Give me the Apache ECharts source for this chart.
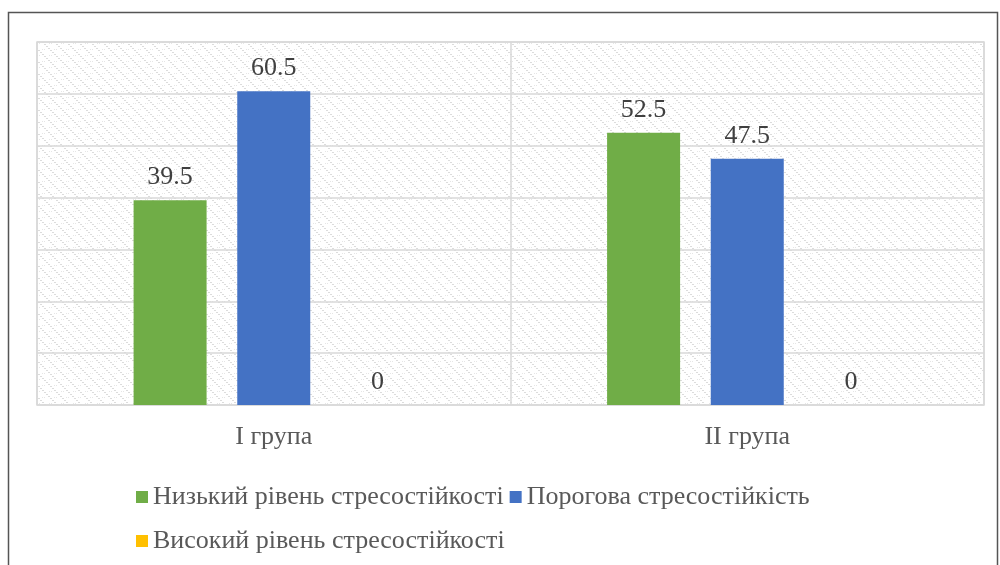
<!DOCTYPE html>
<html>
<head>
<meta charset="utf-8">
<script src="https://cdn.jsdelivr.net/npm/echarts@6/dist/echarts.min.js"></script>
<style>
  html, body { margin: 0; padding: 0; background: #fff; }
  #chart { width: 1000px; height: 565px; }
</style>
</head>
<body>
<div id="chart"></div>
<script>
// Groups and stress-resistance levels (%)
const categories = ['I група', 'II група'];
const lowLevel = [39.5, 52.5];
const thresholdLevel = [60.5, 47.5];
const highLevel = [0, 0];
const seriesNames = ['Низький рівень стресостійкості', 'Порогова стресостійкість', 'Високий рівень стресостійкості'];
const seriesColors = ['#70AD47', '#4472C4', '#FFC000'];

// Light dotted diagonal texture for the plot background
function makeTexture() {
  const c = document.createElement('canvas');
  c.width = 12; c.height = 12;
  const g = c.getContext('2d');
  g.fillStyle = '#ffffff';
  g.fillRect(0, 0, 12, 12);
  g.fillStyle = '#dcdcdc';
  for (let i = 0; i < 12; i += 2) {
    g.fillRect(i, i, 1, 1);
    g.fillRect((i + 1) % 12, i, 1, 1);
  }
  g.fillStyle = '#e6e6e6';
  g.fillRect(6, 1, 1, 1); g.fillRect(8, 1, 1, 1);
  g.fillRect(1, 7, 1, 1); g.fillRect(3, 7, 1, 1);
  return c;
}

const serifFont = 'Liberation Serif';
const dataSets = [lowLevel, thresholdLevel, highLevel];
const legendText = { fontFamily: serifFont, fontSize: 26, color: '#595959' };

const chart = echarts.init(document.getElementById('chart'));
chart.setOption({
  animationDuration: 200,
  animationEasing: 'linear',
  textStyle: { fontFamily: serifFont },
  graphic: [{
    type: 'rect',
    shape: { x: 8.5, y: 12.5, width: 989, height: 600 },
    style: { fill: 'none', stroke: '#555555', lineWidth: 1.5 },
    silent: true
  }],
  grid: {
    left: 37, right: 16, top: 42, bottom: 160,
    show: true,
    backgroundColor: { image: makeTexture(), repeat: 'repeat' },
    borderColor: '#d9d9d9', borderWidth: 1.5
  },
  legend: [{
    left: 131, top: 479,
    itemWidth: 12, itemHeight: 12, itemGap: 6,
    icon: 'rect',
    textStyle: legendText,
    data: seriesNames.slice(0, 2)
  }, {
    left: 131, top: 523,
    itemWidth: 12, itemHeight: 12,
    icon: 'rect',
    textStyle: legendText,
    data: seriesNames.slice(2)
  }],
  xAxis: {
    type: 'category',
    data: categories,
    axisLine: { show: false },
    axisTick: { show: false },
    splitLine: { show: true, lineStyle: { color: '#d9d9d9', width: 1.5 } },
    axisLabel: { margin: 19, fontFamily: serifFont, fontSize: 26, color: '#595959' }
  },
  yAxis: {
    type: 'value',
    min: 0, max: 70, interval: 10,
    axisLabel: { show: false },
    axisLine: { show: false },
    axisTick: { show: false },
    splitLine: { lineStyle: { color: '#d9d9d9', width: 1.5 } }
  },
  series: seriesNames.map((name, i) => ({
    name,
    type: 'bar',
    data: dataSets[i],
    barWidth: 73,
    barGap: '42%',
    itemStyle: { color: seriesColors[i] },
    label: { show: true, position: 'top', distance: 10, fontFamily: serifFont, fontSize: 26, color: '#404040' }
  }))
});
</script>
</body>
</html>
